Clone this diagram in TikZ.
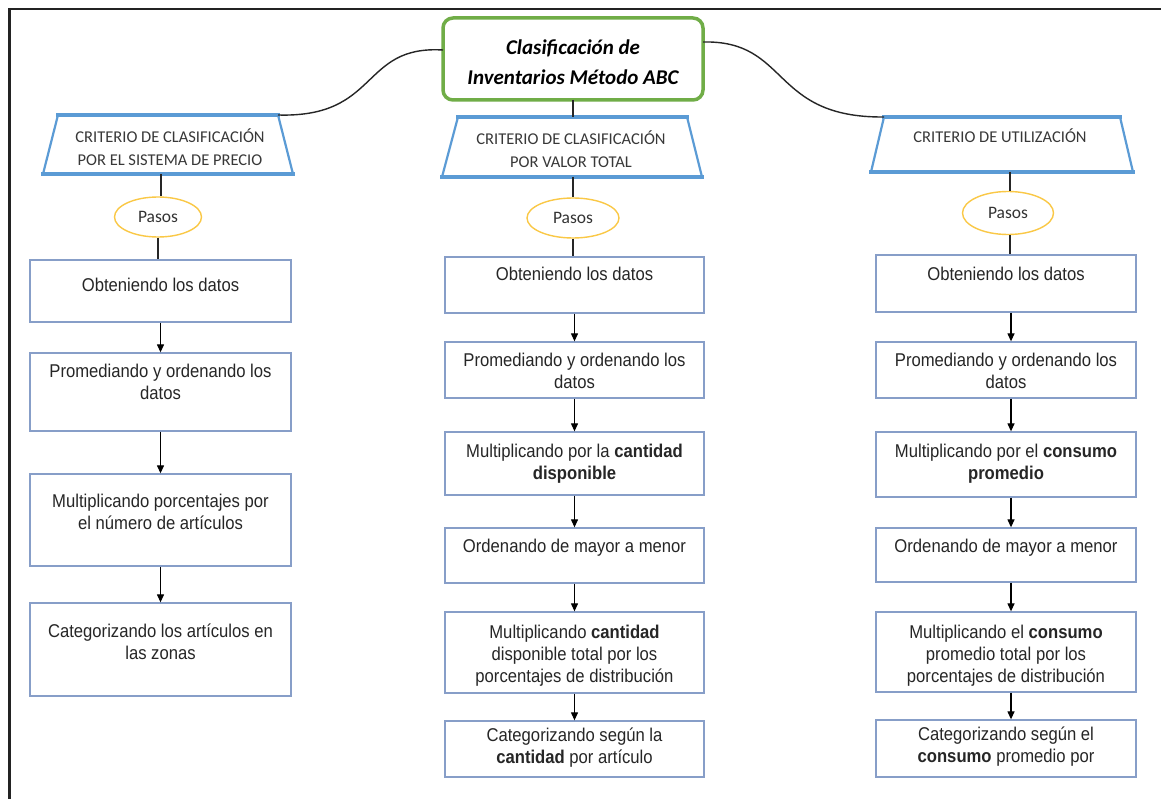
\documentclass[tikz,border=0pt]{standalone}
\usepackage{fontspec}
\setmainfont[FakeStretch=0.9]{Liberation Sans}
\newfontfamily\calib{Carlito}
\usetikzlibrary{arrows.meta,shapes.geometric,calc}
\definecolor{framec}{RGB}{35,35,35}
\definecolor{titlec}{RGB}{112,173,71}
\definecolor{trapc}{RGB}{91,155,213}
\definecolor{boxc}{RGB}{135,158,200}
\definecolor{pasoc}{RGB}{250,200,70}
\begin{document}
% note: text nodes use text height = cap height and depth 0, so a node's
% centre sits on the visual centre of its LAST line; they are placed there.
\begin{tikzpicture}[x=1pt,y=-1pt,
 outerframe/.style={draw=framec,line width=2.5pt},
 titlebox/.style={draw=titlec,line width=3.5pt,rounded corners=10pt,fill=white,minimum width=260pt,minimum height=82pt,inner sep=0pt},
 titletxt/.style={font=\calib\bfseries\itshape\fontsize{21}{30}\selectfont,align=center,text height=13.5pt,text depth=0pt,inner sep=0pt},
 trapside/.style={draw=trapc,line width=2.2pt},
 trapedge/.style={draw=trapc,line width=4.5pt},
 traptxt/.style={font=\calib\fontsize{16.5}{23}\selectfont,text=black!78,align=center,text height=10.6pt,text depth=0pt,inner sep=0pt},
 paso/.style={ellipse,draw=pasoc,line width=1.4pt,fill=white,inner sep=0pt,font=\calib\fontsize{17.5}{18}\selectfont,text=black!80},
 stepbox/.style={draw=boxc,line width=1.3pt,fill=white,inner sep=0pt},
 txt/.style={font=\fontsize{18.5}{22}\selectfont,align=center,text height=13.2pt,text depth=0pt,inner sep=0pt,text=black!85},
 conn/.style={draw=black!85,line width=1.2pt},
 mycurve/.style={draw=black!85,line width=1.4pt},
 arr/.style={draw=black,line width=1.2pt,-{Triangle[length=8pt,width=7pt]}}
]
\useasboundingbox (0,0) rectangle (1161,799);
\fill[white] (0,0) rectangle (1161,799);
% outer frame
\draw[outerframe] (9.5,810) -- (9.5,9) -- (1175,9);

% title
\node[titlebox] (T) at (573,59) {};
\node[titletxt] (Tt) at (573,78) {Clasificación de\\Inventarios Método ABC};
\coordinate (TL) at (443,50);
\coordinate (TR) at (703,42);
\coordinate (TB) at (573,100);

% trapezia
\fill[white] (58,115) -- (278,115) -- (293,174) -- (43,174) -- cycle;
\draw[trapside] (58,115) -- (43,174);
\draw[trapside] (278,115) -- (293,174);
\draw[trapedge] (56,115) -- (280,115);
\draw[trapedge] (41,174) -- (295,174);
\coordinate (LTtr) at (278,115);
\coordinate (LTb) at (161,174);
\node[traptxt] (LTt) at (170,160) {CRITERIO DE CLASIFICACIÓN\\POR EL SISTEMA DE PRECIO};

\fill[white] (458,117) -- (687,117) -- (702,177) -- (442,177) -- cycle;
\draw[trapside] (458,117) -- (442,177);
\draw[trapside] (687,117) -- (702,177);
\draw[trapedge] (456,117) -- (689,117);
\draw[trapedge] (440,177) -- (704,177);
\coordinate (MTt0) at (573,117);
\coordinate (MTb) at (573,177);
\node[traptxt] (MTt) at (571,162) {CRITERIO DE CLASIFICACIÓN\\POR VALOR TOTAL};

\fill[white] (884,117) -- (1120,117) -- (1133,172) -- (871,172) -- cycle;
\draw[trapside] (884,117) -- (871,172);
\draw[trapside] (1120,117) -- (1133,172);
\draw[trapedge] (882,117) -- (1122,117);
\draw[trapedge] (869,172) -- (1135,172);
\coordinate (RTtl) at (884,117);
\coordinate (RTb) at (1010,172);
\node[traptxt] (RTt) at (1000,137) {CRITERIO DE UTILIZACIÓN};

% connectors from title
\draw[mycurve] (TL) .. controls (360,45) and (380,118) .. (LTtr);
\draw[mycurve] (TR) .. controls (790,40) and (770,118) .. (RTtl);
\draw[conn] (TB) -- (MTt0);

% pasos
\node[paso,minimum width=87pt,minimum height=40pt] (LP) at (158,217) {Pasos};
\node[paso,minimum width=92pt,minimum height=40pt] (MP) at (573,218) {Pasos};
\node[paso,minimum width=91pt,minimum height=43pt] (RP) at (1008,213) {Pasos};

% left column
\node[stepbox,minimum width=261pt,minimum height=62pt] (L1) at (160.5,291) {};
\node[stepbox,minimum width=261pt,minimum height=78pt] (L2) at (160.5,392) {};
\node[stepbox,minimum width=261pt,minimum height=92pt] (L3) at (160.5,520) {};
\node[stepbox,minimum width=261pt,minimum height=93pt] (L4) at (160.5,649.5) {};
\node[txt] (L1t) at (160.5,285) {Obteniendo los datos};
\node[txt] (L2t) at (160.5,393) {Promediando y ordenando los\\datos};
\node[txt] (L3t) at (160.5,523) {Multiplicando porcentajes por\\el número de artículos};
\node[txt] (L4t) at (160.5,653) {Categorizando los artículos en\\las zonas};

% middle column
\node[stepbox,minimum width=259pt,minimum height=56pt] (M1) at (574.5,285) {};
\node[stepbox,minimum width=259pt,minimum height=56pt] (M2) at (574.5,370) {};
\node[stepbox,minimum width=259pt,minimum height=63pt] (M3) at (574.5,463.5) {};
\node[stepbox,minimum width=259pt,minimum height=55pt] (M4) at (574.5,555.5) {};
\node[stepbox,minimum width=259pt,minimum height=81pt] (M5) at (574.5,652.5) {};
\node[stepbox,minimum width=259pt,minimum height=56pt] (M6) at (574.5,749) {};
\node[txt] (M1t) at (574.5,274) {Obteniendo los datos};
\node[txt] (M2t) at (574.5,382) {Promediando y ordenando los\\datos};
\node[txt] (M3t) at (574.5,473) {Multiplicando por la \textbf{cantidad}\\\textbf{disponible}};
\node[txt] (M4t) at (574.5,546) {Ordenando de mayor a menor};
\node[txt] (M5t) at (574.5,676) {Multiplicando \textbf{cantidad}\\disponible total por los\\porcentajes de distribución};
\node[txt] (M6t) at (574.5,757) {Categorizando según la\\\textbf{cantidad} por artículo};

% right column
\node[stepbox,minimum width=260pt,minimum height=57pt] (R1) at (1006,283.5) {};
\node[stepbox,minimum width=260pt,minimum height=56pt] (R2) at (1006,370) {};
\node[stepbox,minimum width=260pt,minimum height=65pt] (R3) at (1006,464.5) {};
\node[stepbox,minimum width=260pt,minimum height=54pt] (R4) at (1006,555) {};
\node[stepbox,minimum width=260pt,minimum height=80pt] (R5) at (1006,652) {};
\node[stepbox,minimum width=260pt,minimum height=57pt] (R6) at (1006,748.5) {};
\node[txt] (R1t) at (1006,274) {Obteniendo los datos};
\node[txt] (R2t) at (1006,382) {Promediando y ordenando los\\datos};
\node[txt] (R3t) at (1006,473) {Multiplicando por el \textbf{consumo}\\\textbf{promedio}};
\node[txt] (R4t) at (1006,546) {Ordenando de mayor a menor};
\node[txt] (R5t) at (1006,676) {Multiplicando el \textbf{consumo}\\promedio total por los\\porcentajes de distribución};
\node[txt] (R6t) at (1006,756) {Categorizando según el\\\textbf{consumo} promedio por};
\coordinate (axR) at (1011,0);

% trapezium -> pasos -> first box
\draw[conn] (LTb) -- (LTb |- LP.north);
\draw[conn] (LP.south) -- (LP.south |- L1.north);
\draw[conn] (MTb) -- (MP.north);
\draw[conn] (MP.south) -- (MP.south |- M1.north);
\draw[conn] (RTb) -- (RTb |- RP.north);
\draw[conn] (RP.south -| RTb) -- (R1.north -| RTb);

% arrows
\draw[arr] (L1.south) -- (L2.north);
\draw[arr] (L2.south) -- (L3.north);
\draw[arr] (L3.south) -- (L4.north);
\foreach \a/\b in {M1/M2,M2/M3,M3/M4,M4/M5,M5/M6}{
  \draw[arr] (\a.south) -- (\b.north);
}
\foreach \a/\b in {R1/R2,R2/R3,R3/R4,R4/R5,R5/R6}{
  \draw[arr] (\a.south -| axR) -- (\b.north -| axR);
}
\end{tikzpicture}
\end{document}
